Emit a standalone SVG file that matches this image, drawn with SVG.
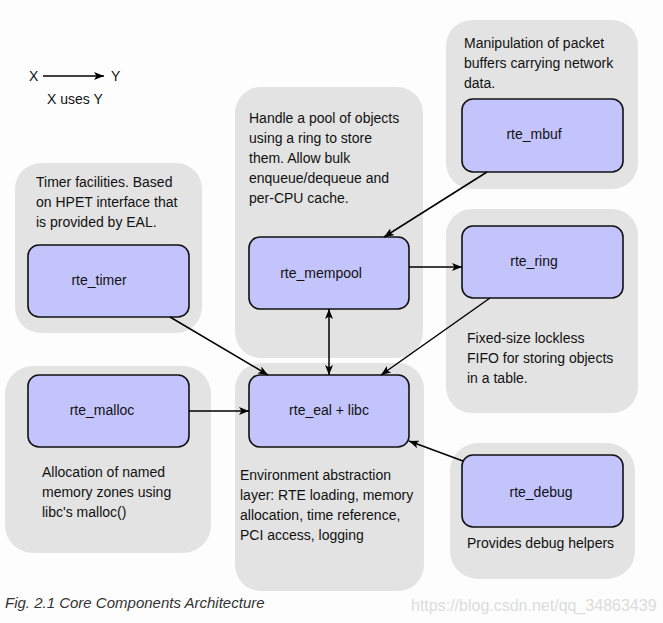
<svg xmlns="http://www.w3.org/2000/svg" width="663" height="623" viewBox="0 0 663 623">
<defs>
<marker id="ah" viewBox="0 0 10 8" refX="10" refY="4" markerWidth="10" markerHeight="8" markerUnits="userSpaceOnUse" orient="auto-start-reverse">
<path d="M0,0 L10,4 L0,8 L2.5,4 z" fill="#000"/>
</marker>
<style>
.panel{fill:#e3e3e3;}
.box{fill:#c4c4fd;stroke:#111;stroke-width:1.6;}
.t{font-family:"Liberation Sans",Arial,sans-serif;font-size:14px;fill:#111;}
.lbl{font-family:"Liberation Sans",Arial,sans-serif;font-size:14px;fill:#111;text-anchor:middle;}
.c{stroke:#000;stroke-width:1.5;fill:none;marker-end:url(#ah);}
</style>
</defs>
<rect width="663" height="623" fill="#fdfdfd"/>

<g id="legend">
<text class="t" x="29" y="81">X</text>
<line x1="43" y1="76" x2="104" y2="76" class="c"/>
<text class="t" x="111" y="81">Y</text>
<text class="t" x="47" y="104">X uses Y</text>
</g>

<g id="timer">
<rect class="panel" x="15" y="163" width="187" height="170" rx="26"/>
<text class="t" x="36" y="187">Timer facilities. Based</text>
<text class="t" x="36" y="207">on HPET interface that</text>
<text class="t" x="36" y="227">is provided by EAL.</text>
<rect class="box" x="28" y="245" width="161" height="72" rx="11"/>
<text class="lbl" x="99" y="285">rte_timer</text>
</g>

<g id="mempool">
<rect class="panel" x="235" y="87" width="188" height="271" rx="26"/>
<text class="t" x="249" y="123">Handle a pool of objects</text>
<text class="t" x="249" y="143">using a ring to store</text>
<text class="t" x="249" y="163">them. Allow bulk</text>
<text class="t" x="249" y="183">enqueue/dequeue and</text>
<text class="t" x="249" y="203">per-CPU cache.</text>
<rect class="box" x="249" y="237" width="160" height="72" rx="11"/>
<text class="lbl" x="321" y="278">rte_mempool</text>
</g>

<g id="mbuf">
<rect class="panel" x="446" y="20" width="192" height="169" rx="26"/>
<text class="t" x="464" y="48">Manipulation of packet</text>
<text class="t" x="464" y="68">buffers carrying network</text>
<text class="t" x="464" y="88">data.</text>
<rect class="box" x="462" y="99" width="161" height="73" rx="11"/>
<text class="lbl" x="534" y="139">rte_mbuf</text>
</g>

<g id="ring">
<rect class="panel" x="446" y="209" width="192" height="204" rx="26"/>
<rect class="box" x="462" y="226" width="161" height="72" rx="11"/>
<text class="lbl" x="534" y="266">rte_ring</text>
<text class="t" x="467" y="343">Fixed-size lockless</text>
<text class="t" x="467" y="363">FIFO for storing objects</text>
<text class="t" x="467" y="383">in a table.</text>
</g>

<g id="malloc">
<rect class="panel" x="5" y="366" width="206" height="187" rx="28"/>
<rect class="box" x="28" y="375" width="161" height="72" rx="11"/>
<text class="lbl" x="102" y="415">rte_malloc</text>
<text class="t" x="42" y="477">Allocation of named</text>
<text class="t" x="42" y="497">memory zones using</text>
<text class="t" x="42" y="517">libc's malloc()</text>
</g>

<g id="eal">
<rect class="panel" x="235" y="363" width="189" height="228" rx="26"/>
<rect class="box" x="249" y="375" width="160" height="72" rx="11"/>
<text class="lbl" x="329" y="415">rte_eal + libc</text>
<text class="t" x="240" y="480">Environment abstraction</text>
<text class="t" x="240" y="500">layer: RTE loading, memory</text>
<text class="t" x="240" y="520">allocation, time reference,</text>
<text class="t" x="240" y="540">PCI access, logging</text>
</g>

<g id="debug">
<rect class="panel" x="450" y="443" width="185" height="136" rx="28"/>
<rect class="box" x="462" y="455" width="161" height="72" rx="11"/>
<text class="lbl" x="541" y="497">rte_debug</text>
<text class="t" x="467" y="548">Provides debug helpers</text>
</g>

<g id="connectors">
<line class="c" x1="487" y1="172" x2="384" y2="237"/>
<line class="c" x1="409" y1="267" x2="462" y2="267"/>
<line class="c" x1="329" y1="309" x2="329" y2="375" style="marker-start:url(#ah)"/>
<line class="c" x1="170" y1="317" x2="268" y2="375"/>
<line class="c" x1="490" y1="298" x2="381" y2="375"/>
<line class="c" x1="189" y1="411" x2="249" y2="411"/>
<line class="c" x1="463" y1="461" x2="409" y2="441"/>
</g>

<g id="caption">
<text x="5" y="608" style="font-family:'Liberation Sans',Arial,sans-serif;font-size:15px;font-style:italic;fill:#333">Fig. 2.1 Core Components Architecture</text>
<text x="411" y="611" style="font-family:'Liberation Sans',Arial,sans-serif;font-size:16px;fill:#dcdcdc">https://blog.csdn.net/qq_34863439</text>
</g>
</svg>
